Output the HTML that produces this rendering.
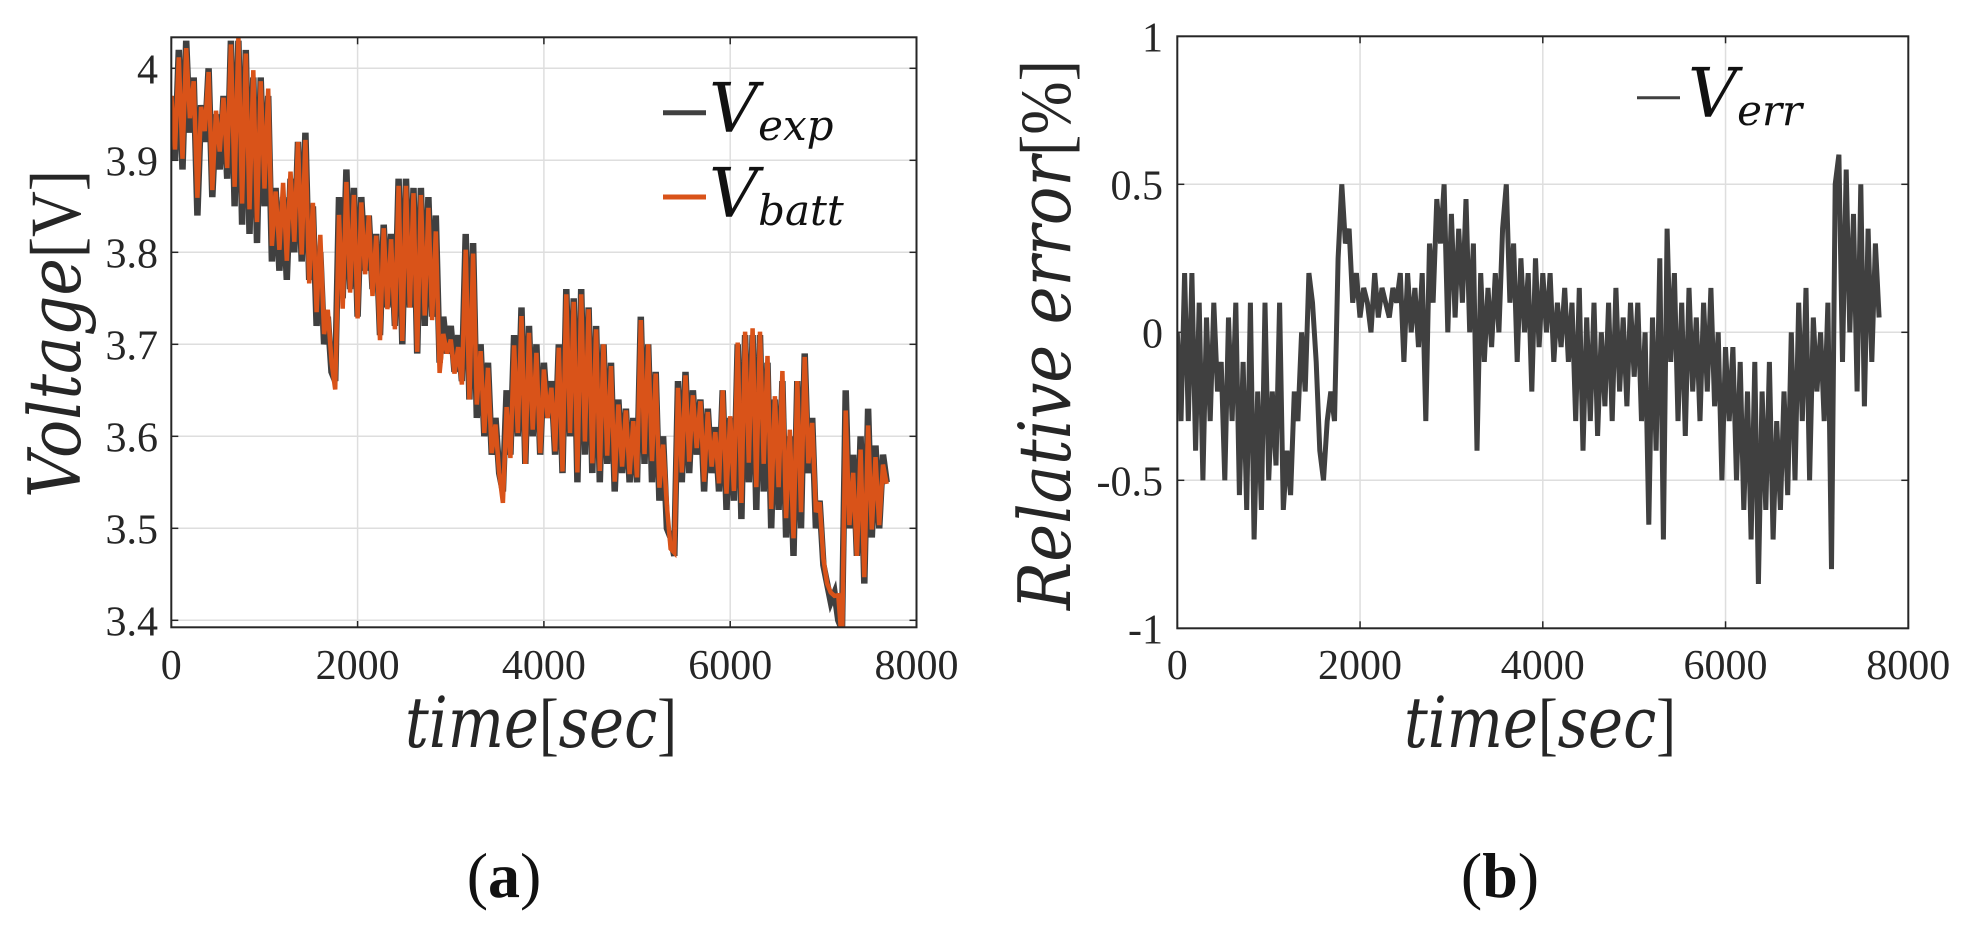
<!DOCTYPE html>
<html><head><meta charset="utf-8"><style>
html,body{margin:0;padding:0;background:#fff;}
svg{display:block;}
text{font-family:"Liberation Serif","DejaVu Serif","Times New Roman",serif;}
.it{font-family:"DejaVu Serif","Liberation Serif",serif;font-style:italic;}
</style></head><body>
<svg id="fig" width="1963" height="925" viewBox="0 0 1963 925">
<defs>
<clipPath id="ca"><rect x="171.3" y="37.3" width="745.2" height="590"/></clipPath>
<clipPath id="cb"><rect x="1177.3" y="36.3" width="731" height="592"/></clipPath>
</defs>
<g id="pa"></g>
<g id="pb"></g>
</svg>
<script>
const timeStep = 40;
const xTicks = [0, 2000, 4000, 6000, 8000];
const vTicks = [3.4, 3.5, 3.6, 3.7, 3.8, 3.9, 4.0];
const vTickLabels = ["3.4","3.5","3.6","3.7","3.8","3.9","4"];
const eTicks = [-1, -0.5, 0, 0.5, 1];
const eTickLabels = ["-1","-0.5","0","0.5","1"];
const vExp = [3.97,3.90,4.02,3.89,4.03,3.93,3.99,3.84,3.96,3.92,4.00,3.86,3.95,3.89,3.97,3.88,4.03,3.85,4.03,3.83,4.02,3.82,3.99,3.81,3.99,3.85,3.97,3.79,
3.87,3.78,3.86,3.77,3.88,3.80,3.92,3.79,3.93,3.77,
3.85,3.72,3.80,3.70,3.73,3.67,3.66,
3.86,3.75,3.89,3.76,3.87,3.73,3.86,3.78,3.84,3.76,3.82,3.71,3.83,3.74,3.82,3.72,3.88,3.70,3.88,3.74,3.87,3.69,3.87,3.72,3.86,3.73,3.84,3.68,3.73,3.69,
3.72,3.67,3.71,3.66,3.82,3.64,3.81,3.62,3.70,3.60,3.68,3.58,3.62,3.56,3.54,
3.65,3.58,3.71,3.60,3.74,3.57,3.72,3.60,3.70,3.58,3.68,3.62,3.66,3.58,3.70,3.56,3.76,3.60,3.75,3.55,3.76,3.58,3.74,3.56,3.72,3.55,3.70,3.57,3.68,3.54,3.64,3.56,3.63,3.55,3.62,3.55,
3.73,3.57,3.70,3.55,3.67,3.53,3.60,3.50,3.49,3.47,
3.66,3.55,3.67,3.56,3.65,3.58,3.64,3.54,3.63,3.56,3.61,3.54,3.65,3.52,3.62,3.53,3.70,3.51,3.71,3.55,3.71,3.52,3.71,3.54,3.68,3.50,3.64,3.52,3.66,3.49,3.60,3.47,3.66,3.50,3.69,
3.56,3.62,3.50,3.53,3.46,3.44,3.42,3.43,3.40,3.39,
3.65,3.50,3.58,3.47,3.60,3.44,3.63,3.49,3.59,3.50,3.58,3.55];
const vErr = [0.0,-0.3,0.2,-0.3,0.2,-0.4,0.1,-0.5,0.05,-0.3,0.1,-0.2,-0.1,-0.5,0.05,-0.3,0.1,-0.55,-0.1,-0.6,0.1,-0.7,-0.2,-0.6,0.1,-0.5,-0.2,-0.45,
0.1,-0.6,-0.4,-0.55,-0.2,-0.3,0.0,-0.2,0.2,0.1,
-0.1,-0.4,-0.5,-0.3,-0.2,-0.3,0.25,
0.5,0.3,0.35,0.1,0.2,0.05,0.15,0.1,0.0,0.2,0.05,0.15,0.1,0.05,0.15,0.1,0.2,-0.1,0.2,0.0,0.15,-0.05,0.2,-0.3,0.3,0.1,0.45,0.3,0.5,0.0,
0.4,0.05,0.35,0.1,0.45,0.0,0.3,-0.4,0.2,-0.1,0.15,-0.05,0.2,0.0,0.35,
0.5,0.1,0.3,-0.1,0.25,0.0,0.2,-0.2,0.25,-0.05,0.2,0.0,0.2,-0.1,0.1,-0.05,0.15,-0.1,0.1,-0.3,0.15,-0.4,0.05,-0.3,0.1,-0.35,0.0,-0.25,0.1,-0.3,0.15,-0.2,0.05,-0.25,0.1,-0.15,
0.1,-0.3,0.0,-0.65,0.05,-0.4,0.25,-0.7,0.35,-0.1,
0.2,-0.3,0.1,-0.35,0.15,-0.2,0.05,-0.3,0.1,-0.2,0.15,-0.25,0.0,-0.5,-0.05,-0.3,-0.05,-0.5,-0.1,-0.6,-0.2,-0.7,-0.1,-0.85,-0.2,-0.6,-0.1,-0.7,-0.3,-0.6,-0.2,-0.55,0.0,-0.5,0.1,
-0.3,0.15,-0.5,0.05,-0.2,0.0,-0.3,0.1,-0.8,0.5,
0.6,-0.1,0.55,0.0,0.4,-0.2,0.5,-0.25,0.35,-0.1,0.3,0.05];
const vBatt = vExp.map((v,i)=>v*(1 - vErr[i]/100));

const NS="http://www.w3.org/2000/svg";
function mk(parent,tag,attrs,text){const e=document.createElementNS(NS,tag);for(const k in attrs)e.setAttribute(k,attrs[k]);if(text!==undefined)e.textContent=text;parent.appendChild(e);return e;}

function panel(g, box, yDom, yTicks, yLabels, labelRight){
  const xs = v => box.l + (v-0)/(8000-0)*(box.r-box.l);
  const ys = v => box.b - (v-yDom[0])/(yDom[1]-yDom[0])*(box.b-box.t);
  xTicks.forEach((t,i)=>{
    if(t>0 && t<8000){const l=mk(g,'line',{x1:xs(t),x2:xs(t),y1:box.t,y2:box.b,stroke:'#dedede','stroke-width':1.5});
    
    }
    const tx=mk(g,'text',{x:xs(t),y:679,'font-size':42,'text-anchor':'middle',fill:'#262626'},String(t));
    
    
    [box.b,box.t].forEach(yy=>{const tk=mk(g,'line',{x1:xs(t),x2:xs(t),y1:yy,y2:yy===box.b?yy-7:yy+7,stroke:'#262626','stroke-width':1.5});
    
    });
  });
  yTicks.forEach((t,i)=>{
    const y=ys(t);
    if(Math.abs(y-box.t)>2 && Math.abs(y-box.b)>2){const l=mk(g,'line',{x1:box.l,x2:box.r,y1:y,y2:y,stroke:'#dedede','stroke-width':1.5});
    
    }
    const tx=mk(g,'text',{x:labelRight,y:y+15,'font-size':42,'text-anchor':'end',fill:'#262626'},yLabels[i]);
    
    
    [box.l,box.r].forEach(xx=>{const tk=mk(g,'line',{x1:xx,x2:xx===box.l?xx+7:xx-7,y1:y,y2:y,stroke:'#262626','stroke-width':1.5});
    
    });
  });
  return {xs,ys};
}
function linePath(arr,xs,ys){return arr.map((v,i)=>(i?'L':'M')+xs(i*timeStep).toFixed(1)+' '+ys(v).toFixed(1)).join(' ');}

const ga=document.getElementById('pa');
const A={l:171.3,r:916.5,t:37.3,b:627.3};
const sa=panel(ga,A,[3.3924,4.0337],vTicks,vTickLabels,158);
const pe=mk(ga,'path',{d:linePath(vExp,sa.xs,sa.ys),fill:'none',stroke:'#404040','stroke-width':6.5,'stroke-linejoin':'miter','clip-path':'url(#ca)'});


const pbt=mk(ga,'path',{d:linePath(vBatt,sa.xs,sa.ys),fill:'none',stroke:'#d95319','stroke-width':4.5,'stroke-linejoin':'miter','clip-path':'url(#ca)'});


const fa=mk(ga,'rect',{x:A.l,y:A.t,width:A.r-A.l,height:A.b-A.t,fill:'none',stroke:'#262626','stroke-width':2});



const gb=document.getElementById('pb');
const B={l:1177.3,r:1908.3,t:36.3,b:628.3};
const sb=panel(gb,B,[-1,1],eTicks,eTickLabels,1163);
const pr=mk(gb,'path',{d:linePath(vErr,sb.xs,sb.ys),fill:'none',stroke:'#404040','stroke-width':5,'stroke-linejoin':'miter','clip-path':'url(#cb)'});


const fb=mk(gb,'rect',{x:B.l,y:B.t,width:B.r-B.l,height:B.b-B.t,fill:'none',stroke:'#262626','stroke-width':2});


</script>
<svg width="1963" height="925" viewBox="0 0 1963 925" style="position:absolute;left:0;top:0">
<g fill="#262626">
 <line x1="663" y1="112.7" x2="706" y2="112.7" stroke="#404040" stroke-width="5"/>
 <text class="it" x="709" y="132" font-size="68" fill="#111">V<tspan font-size="42" dy="8">exp</tspan></text>
 <line x1="663" y1="197" x2="706" y2="197" stroke="#d95319" stroke-width="5"/>
 <text class="it" x="709" y="217" font-size="68" fill="#111">V<tspan font-size="42" dy="8">batt</tspan></text>
 <line x1="1637" y1="97.7" x2="1680" y2="97.7" stroke="#404040" stroke-width="3"/>
 <text class="it" x="1688" y="117" font-size="68" fill="#111">V<tspan font-size="42" dy="8">err</tspan></text>
 <text x="-334" y="80" transform="rotate(-90)" font-size="72" text-anchor="middle" textLength="328" lengthAdjust="spacingAndGlyphs"><tspan class="it">Voltage</tspan>[V]</text>
 <text x="-335" y="1070" transform="rotate(-90)" font-size="72" text-anchor="middle" textLength="550" lengthAdjust="spacingAndGlyphs"><tspan class="it">Relative error</tspan>[%]</text>
 <text x="541" y="747" font-size="70" text-anchor="middle" textLength="272" lengthAdjust="spacingAndGlyphs"><tspan class="it">time</tspan>[<tspan class="it">sec</tspan>]</text>
 <text x="1540" y="747" font-size="70" text-anchor="middle" textLength="272" lengthAdjust="spacingAndGlyphs"><tspan class="it">time</tspan>[<tspan class="it">sec</tspan>]</text>
 <text x="504" y="897" font-size="64" text-anchor="middle" fill="#111">(<tspan font-weight="bold">a</tspan>)</text>
 <text x="1500" y="897" font-size="64" text-anchor="middle" fill="#111">(<tspan font-weight="bold">b</tspan>)</text>
</g>
</svg>
</body></html>
